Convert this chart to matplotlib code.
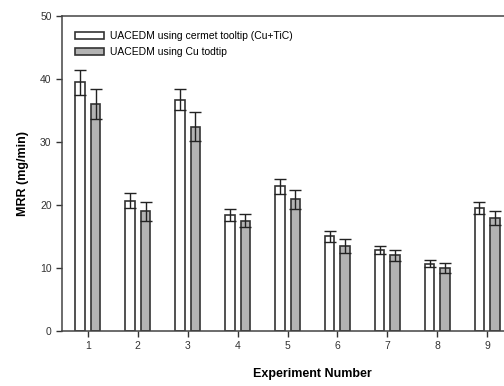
import matplotlib.pyplot as plt
import numpy as np

plt.rcParams['font.family'] = ['Liberation Sans', 'DejaVu Sans']

experimentos = [1, 2, 3, 4, 5, 6, 7, 8, 9]
mrr_cermet = [39.5, 20.7, 36.7, 18.4, 23.0, 15.0, 12.9, 10.7, 19.5]
err_cermet = [2.0, 1.2, 1.7, 0.9, 1.2, 0.9, 0.6, 0.6, 0.9]
mrr_cu = [36.0, 19.0, 32.4, 17.5, 20.9, 13.5, 12.0, 10.0, 18.0]
err_cu = [2.4, 1.5, 2.3, 1.0, 1.5, 1.1, 0.9, 0.8, 1.1]

fig = plt.figure(figsize=(5.04, 3.86), dpi=100)
ax = fig.add_axes([62 / 504, 55 / 386, 500 / 504, 315 / 386])

x = np.array(experimentos)
ancho = 0.19
borde = '#333333'
ax.bar(x - 0.155, mrr_cermet, ancho, color='white', edgecolor=borde, linewidth=1.2,
       label='UACEDM using cermet tooltip (Cu+TiC)')
ax.bar(x + 0.155, mrr_cu, ancho, color='#b3b3b3', edgecolor=borde, linewidth=1.2,
       label='UACEDM using Cu todtip')
ax.errorbar(x - 0.155, mrr_cermet, yerr=err_cermet, fmt='none', ecolor='#222222',
            elinewidth=1.0, capsize=4, capthick=1.0)
ax.errorbar(x + 0.155, mrr_cu, yerr=err_cu, fmt='none', ecolor='#222222',
            elinewidth=1.0, capsize=4, capthick=1.0)

ax.set_xlim(0.48, 10.5)
ax.set_ylim(0, 50)
ax.set_xticks(experimentos)
ax.set_yticks([0, 10, 20, 30, 40, 50])
ax.tick_params(labelsize=7.5, colors='#333333', length=4, width=1)
for s in ['left', 'top', 'bottom', 'right']:
    ax.spines[s].set_color('#444444')
    ax.spines[s].set_linewidth(1.1)

ax.set_ylabel('MRR (mg/min)', fontsize=9, fontweight='bold', labelpad=8)
ax.set_xlabel('Experiment Number', fontsize=9, fontweight='bold', labelpad=12)

ax.legend(loc='upper left', bbox_to_anchor=(0.026, 0.953), frameon=False, fontsize=7.5,
          handlelength=2.8, handleheight=0.65, handletextpad=0.6, labelspacing=0.6,
          borderaxespad=0, borderpad=0)

plt.savefig('out.png', dpi=100)
plt.close(fig)
